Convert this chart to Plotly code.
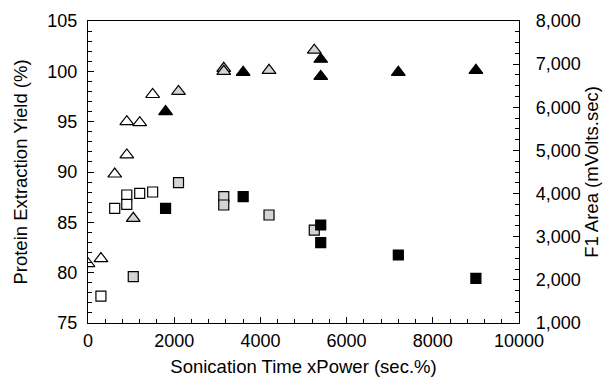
import plotly.graph_objects as go

# Open series (low)
open_x_tri = [0, 300, 620, 900, 900, 1200, 1500]
open_yield = [80.9, 81.4, 89.8, 91.7, 95.0, 94.9, 97.7]
open_x_sq = [300, 620, 900, 900, 1200, 1500]
open_area = [1625, 3658, 3967, 3751, 4006, 4036]

# Gray series (medium)
gray_x = [1050, 2100, 3150, 3150, 4200, 5250]
gray_yield = [85.4, 98.0, 100.3, 100.0, 100.1, 102.1]
gray_area = [2073, 4252, 3927, 3735, 3503, 3155]

# Filled series (high)
fill_x = [1800, 3600, 5400, 5400, 7200, 9000]
fill_yield = [96.0, 99.9, 101.2, 99.5, 99.9, 100.1]
fill_area = [3658, 3927, 3271, 2861, 2576, 2036]

FONT = "Liberation Sans, Arial, Helvetica, sans-serif"

fig = go.Figure()

def tri(x, y, fill):
    return go.Scatter(x=x, y=y, mode="markers", showlegend=False, yaxis="y",
                      marker=dict(symbol="triangle-up", size=12, color=fill,
                                  line=dict(color="black", width=1.2)))

def sq(x, y, fill):
    return go.Scatter(x=x, y=y, mode="markers", showlegend=False, yaxis="y2",
                      marker=dict(symbol="square", size=10, color=fill,
                                  line=dict(color="black", width=1.2)))

fig.add_trace(tri(open_x_tri, open_yield, "white"))
fig.add_trace(sq(open_x_sq, open_area, "white"))
fig.add_trace(tri(gray_x, gray_yield, "#d4d4d4"))
fig.add_trace(sq(gray_x, gray_area, "#d4d4d4"))
fig.add_trace(tri(fill_x, fill_yield, "black"))
fig.add_trace(sq(fill_x, fill_area, "black"))

TICKF = 18
TITLEF = 18.5

fig.update_layout(
    width=613, height=388,
    margin=dict(l=88, r=94, t=21, b=65),
    paper_bgcolor="white", plot_bgcolor="white",
    font=dict(family=FONT, size=TICKF, color="black"),
    xaxis=dict(range=[0, 10000], dtick=2000, tick0=0,
               showline=True, linecolor="black", linewidth=1.2, mirror=True,
               ticks="inside", ticklen=6, tickcolor="black",
               minor=dict(dtick=400, ticks="inside", ticklen=4, tickcolor="black"),
               showgrid=False, zeroline=False, tickformat="d",
               ticklabelstandoff=1,
               title=dict(text="Sonication Time xPower (sec.%)", font=dict(size=TITLEF), standoff=10)),
    yaxis=dict(range=[75, 105], dtick=5, tick0=75,
               showline=True, linecolor="black", linewidth=1.2,
               ticks="inside", ticklen=6, tickcolor="black",
               minor=dict(dtick=1, ticks="inside", ticklen=4, tickcolor="black"),
               showgrid=False, zeroline=False,
               ticklabelstandoff=6,
               title=dict(text="Protein Extraction Yield (%)", font=dict(size=TITLEF), standoff=14)),
    yaxis2=dict(range=[1000, 8000], dtick=1000, tick0=1000, overlaying="y", side="right",
                showline=True, linecolor="black", linewidth=1.2,
                ticks="inside", ticklen=6, tickcolor="black",
                minor=dict(dtick=250, ticks="inside", ticklen=4, tickcolor="black"),
                showgrid=False, zeroline=False, tickformat=",d",
                ticklabelstandoff=12,
                title=dict(text="F1 Area (mVolts.sec)", font=dict(size=TITLEF), standoff=4)),
)

fig.write_html("out.html")
